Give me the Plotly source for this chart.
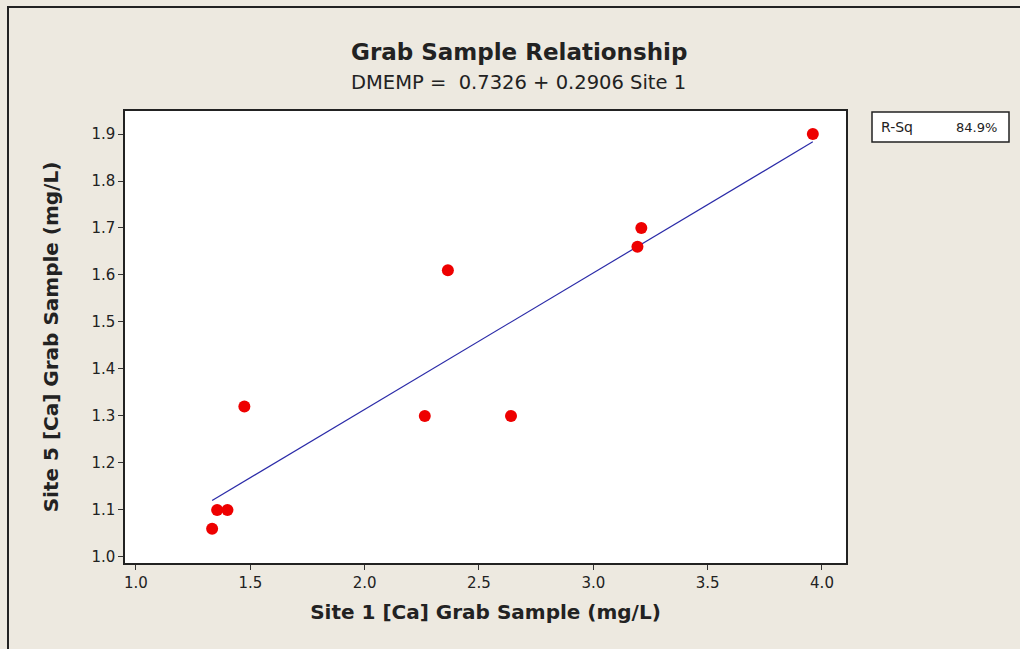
import plotly.graph_objects as go

# Data
site1 = [1.333, 1.355, 1.40, 1.474, 2.263, 2.364, 2.64, 3.193, 3.21, 3.96]
site5 = [1.06, 1.10, 1.10, 1.32, 1.30, 1.61, 1.30, 1.66, 1.70, 1.90]
intercept = 0.7326
slope = 0.2906
r_sq = "84.9%"
x_ticks = [1.0, 1.5, 2.0, 2.5, 3.0, 3.5, 4.0]
y_ticks = [1.0, 1.1, 1.2, 1.3, 1.4, 1.5, 1.6, 1.7, 1.8, 1.9]

W, H = 1020, 649
L, R, T, B = 125, 846, 111, 563

def px(xp):
    return (xp - L) / (R - L)

def py(yp):
    return (B - yp) / (B - T)

fit_x = [min(site1), max(site1)]
fit_y = [intercept + slope * v for v in fit_x]

FONT = "DejaVu Sans"
BG = "#EDE9E0"

fig = go.Figure()
fig.add_trace(go.Scatter(x=fit_x, y=fit_y, mode="lines",
                         line=dict(color="#2B2BA8", width=1.2),
                         hoverinfo="skip", showlegend=False))
fig.add_trace(go.Scatter(x=site1, y=site5, mode="markers",
                         marker=dict(color="#EE0000", size=12),
                         showlegend=False))

fig.update_layout(
    width=W, height=H,
    margin=dict(l=L, r=W - R, t=T, b=H - B),
    paper_bgcolor=BG, plot_bgcolor="white",
    font=dict(family=FONT, color="#222222"),
    xaxis=dict(range=[0.952, 4.105], tickvals=x_ticks,
               ticktext=[f"{v:.1f}" for v in x_ticks],
               ticks="outside", ticklen=5, tickcolor="#333333",
               showgrid=False, zeroline=False,
               showline=True, linecolor="#222222", linewidth=1.5, mirror=True,
               tickfont=dict(size=15, family=FONT, color="#222222"),
               title=dict(text="<b>Site 1 [Ca] Grab Sample (mg/L)</b>",
                          font=dict(size=20, family=FONT, color="#222222"),
                          standoff=14)),
    yaxis=dict(range=[0.987, 1.949], tickvals=y_ticks,
               ticktext=[f"{v:.1f}" for v in y_ticks],
               ticks="outside", ticklen=5, tickcolor="#333333",
               showgrid=False, zeroline=False,
               showline=True, linecolor="#222222", linewidth=1.5, mirror=True,
               tickfont=dict(size=15, family=FONT, color="#222222"),
               title=dict(text="<b>Site 5 [Ca] Grab Sample (mg/L)</b>",
                          font=dict(size=20, family=FONT, color="#222222"),
                          standoff=27)),
    annotations=[
        dict(text="<b>Grab Sample Relationship</b>", xref="paper", yref="paper",
             x=px(519), y=py(52), xanchor="center", yanchor="middle",
             showarrow=False, font=dict(size=23, family=FONT, color="#222222")),
        dict(text="DMEMP =  0.7326 + 0.2906 Site 1", xref="paper", yref="paper",
             x=px(518), y=py(82), xanchor="center", yanchor="middle",
             showarrow=False, font=dict(size=19.5, family=FONT, color="#222222")),
        dict(text="R-Sq", xref="paper", yref="paper",
             x=px(879), y=py(127), xanchor="left", yanchor="middle",
             showarrow=False, font=dict(size=14, family=FONT, color="#222222")),
        dict(text=r_sq, xref="paper", yref="paper",
             x=px(999), y=py(127), xanchor="right", yanchor="middle",
             showarrow=False, font=dict(size=13, family=FONT, color="#222222")),
    ],
    shapes=[
        dict(type="rect", xref="paper", yref="paper",
             x0=px(872), x1=px(1009), y0=py(142), y1=py(112),
             line=dict(color="#222222", width=1.5), fillcolor="white", layer="below"),
        dict(type="rect", xref="paper", yref="paper",
             x0=px(8), x1=px(1100), y0=py(700), y1=py(7),
             line=dict(color="#222222", width=2), fillcolor="rgba(0,0,0,0)", layer="below"),
    ],
)

fig.write_html("out.html")
